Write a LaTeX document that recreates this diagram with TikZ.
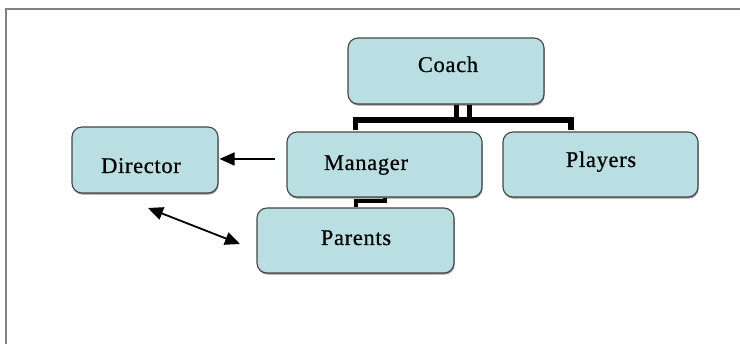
\documentclass[tikz,border=0pt]{standalone}
\usepackage{fontspec}
\setmainfont{Liberation Serif}
\newfontfamily\lblfont[LetterSpace=3,FakeBold=0.6]{Liberation Serif}
\usetikzlibrary{arrows.meta,shadows}
\definecolor{boxfill}{RGB}{185,223,226}
\definecolor{boxline}{RGB}{70,70,70}
\definecolor{framegray}{RGB}{130,130,130}
\begin{document}
\begin{tikzpicture}[x=1pt,y=-1pt,
  box/.style={draw=boxline, line width=1.1pt, fill=boxfill, rounded corners=10pt, inner sep=0pt,
    drop shadow={shadow xshift=0.6pt, shadow yshift=-1.6pt, fill=black!60, opacity=0.7}},
  lbl/.style={anchor=base, inner sep=0pt, font=\lblfont\fontsize{22.5}{26}\selectfont, text=black},
  bus/.style={line width=5.5pt, black, line cap=butt, line join=miter},
  thin bus/.style={line width=4.5pt, black, line cap=butt, line join=miter},
  arr/.style={line width=1.8pt, black, -{Triangle[length=15pt,width=13pt]}},
  dblarr/.style={line width=1.8pt, black, {Triangle[length=15pt,width=13pt]}-{Triangle[length=15pt,width=13pt]}}
]
\useasboundingbox (0,0) rectangle (740,344);
\fill[white] (0,0) rectangle (740,344);
% frame
\draw[framegray, line width=1.6pt] (5.8,344) -- (5.8,8.8) -- (740,8.8);

% boxes
\node[box, minimum width=196pt, minimum height=66pt] (coach) at (446,71) {};
\node[box, minimum width=195pt, minimum height=65pt] (manager) at (384.5,164.5) {};
\node[box, minimum width=195pt, minimum height=65pt] (players) at (600.5,164.5) {};
\node[box, minimum width=197pt, minimum height=65pt] (parents) at (355.5,240.5) {};
\node[box, minimum width=146pt, minimum height=66pt] (director) at (145,160) {};

% labels
\node[lbl] (coachT) at (448,72) {Coach};
\node[lbl] (managerT) at (366,170) {Manager};
\node[lbl] (playersT) at (601,167) {Players};
\node[lbl] (parentsT) at (356,245) {Parents};
\node[lbl] (directorT) at (141,173) {Director};

% Coach bus
\coordinate (busL) at (355.5,120);
\coordinate (busR) at (571,120);
\coordinate (d1) at (456.5,120);
\coordinate (d2) at (469.5,120);
\draw[thin bus] (d1 |- coach.south) -- (d1);
\draw[thin bus] (d2 |- coach.south) -- (d2);
\draw[bus] ([yshift=1pt]manager.north -| busL) -- (busL) -- (busR) -- ([yshift=1pt]players.north -| busR);

% Manager to Parents
\coordinate (mpA) at (385,201.5);
\coordinate (mpB) at (355.5,201.5);
\draw[line width=4pt, black, line join=miter] ([yshift=-0.5pt]mpA |- manager.south) -- (mpA) -- (mpB) -- ([yshift=0.5pt]mpB |- parents.north);

% arrows
\coordinate (a1) at (275,159);
\draw[arr] (a1) -- ([xshift=1pt]director.east |- a1);
\coordinate (b1) at (148,208);
\coordinate (b2) at (240,244);
\draw[dblarr] (b1) -- (b2);
\end{tikzpicture}
\end{document}
